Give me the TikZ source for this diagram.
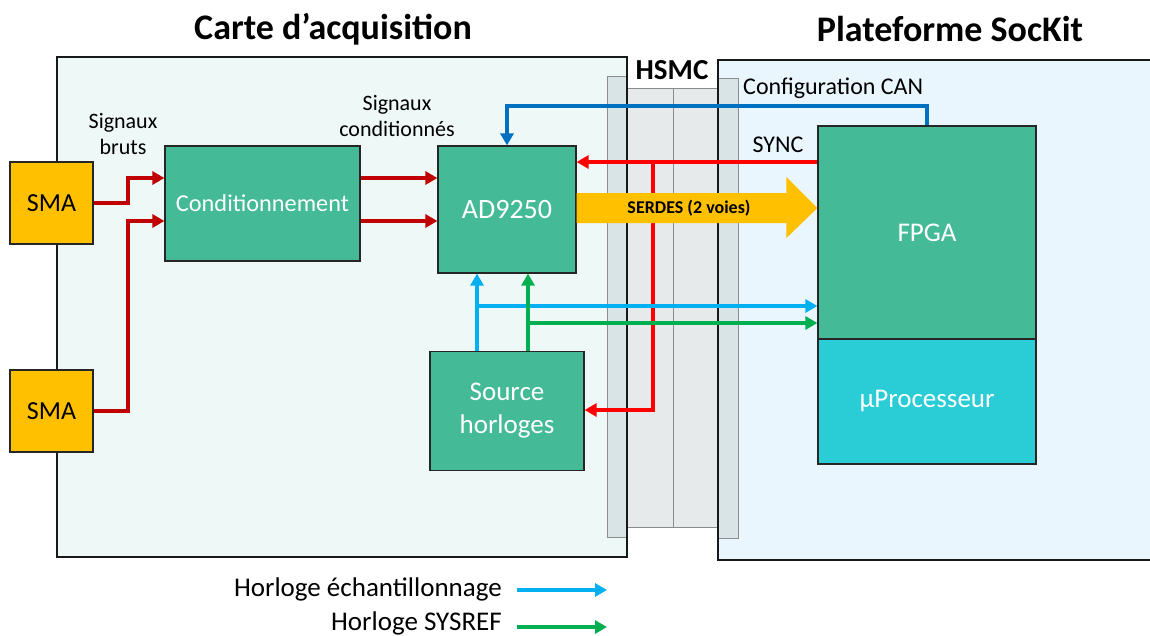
\documentclass[tikz,border=0pt]{standalone}
\usepackage{fontspec}
\setmainfont{Carlito}
\usetikzlibrary{arrows.meta,calc}
\definecolor{boardL}{RGB}{238,248,247}
\definecolor{boardR}{RGB}{234,246,253}
\definecolor{stripc}{RGB}{217,228,230}
\definecolor{midc}{RGB}{230,234,234}
\definecolor{cgreen}{RGB}{68,186,150}
\definecolor{ccyan}{RGB}{42,205,214}
\definecolor{cgold}{RGB}{255,192,0}
\definecolor{dred}{RGB}{192,0,0}
\definecolor{bred}{RGB}{255,0,0}
\definecolor{cblue}{RGB}{0,112,192}
\definecolor{lblue}{RGB}{0,176,240}
\definecolor{cgrn}{RGB}{0,176,80}
\begin{document}
\begin{tikzpicture}[x=1pt,y=-1pt,
  blk/.style={draw=black!85, line width=1.2pt, fill=cgreen, text=white, align=center, inner sep=0pt, font=\fontsize{27}{33}\selectfont},
  smabox/.style={draw=black!85, line width=1.2pt, fill=cgold, minimum width=83, minimum height=82, inner sep=0pt, font=\fontsize{26}{30}\selectfont},
  lbl/.style={align=center, inner sep=0pt, font=\fontsize{22}{26}\selectfont},
  ttl/.style={inner sep=0pt, font=\bfseries\fontsize{36}{40}\selectfont},
  tip/.style={-{Triangle[length=12pt,width=13pt]}},
  wire/.style={line width=4pt, tip},
  stripbox/.style={draw=black!45, line width=0.8pt, fill=stripc},
  midbox/.style={draw=black!45, line width=0.8pt, fill=midc},
  border/.style={draw=black!90, line width=1.8pt}
]
\useasboundingbox (0,0) rectangle (1150,635);
\fill[white] (0,0) rectangle (1150,635);

% boards
\fill[boardL] (57,57) rectangle (627,557);
\fill[boardR] (718,60) rectangle (1150,560);
\draw[stripbox] (607,76) rectangle (627,537);
\draw[stripbox] (718,78) rectangle (738,538);
\draw[midbox] (627,88) rectangle (718,527);
\draw[black!45, line width=0.8pt] (673,88) -- (673,527);
\draw[border] (57,57) rectangle (627,557);
\draw[border] (1151,60) -- (718,60) -- (718,560) -- (1151,560);

% titles
\node[ttl] (t1) at (333,29) {Carte d’acquisition};
\node[ttl] (t2) at (950,29) {Plateforme SocKit};
\node[inner sep=0pt, font=\bfseries\fontsize{29}{32}\selectfont] (hsmc) at (672,70) {HSMC};

% blocks
\node[smabox] (sma1) at (51.5,203) {SMA};
\node[smabox] (sma2) at (51.5,411) {SMA};
\node[blk, minimum width=195, minimum height=115, font=\fontsize{24.3}{28}\selectfont] (cond) at (262.5,203.5) {Conditionnement};
\node[blk, minimum width=138, minimum height=127, font=\fontsize{28}{32}\selectfont] (ad) at (507,209.5) {AD9250};
\node[blk, minimum width=154, minimum height=119, font=\fontsize{27}{33}\selectfont] (src) at (507,411) {Source\\horloges};
\node[blk, minimum width=218, minimum height=213] (fpga) at (927,232.5) {FPGA};
\node[blk, fill=ccyan, minimum width=218, minimum height=125] (up) at (927,401.5) {µProcesseur};

% labels
\node[lbl] (lb1) at (123,134) {Signaux\\bruts};
\node[lbl] (lb2) at (397,116) {Signaux\\conditionnés};
\node[lbl, anchor=west, font=\fontsize{24}{28}\selectfont] (lb3) at (743,88) {Configuration CAN};
\node[lbl, font=\fontsize{24}{28}\selectfont] (lb4) at (778,145) {SYNC};

% helper coordinates
\coordinate (xk) at (128,0);
\coordinate (yA) at (0,178);
\coordinate (yB) at (0,221);
\coordinate (ys) at (0,162);
\coordinate (xb) at (653,0);
\coordinate (ysrc) at (0,410);
\coordinate (yc) at (0,106);
\coordinate (xl) at (477,0);
\coordinate (xg) at (528,0);
\coordinate (ylb) at (0,306);
\coordinate (yg) at (0,323);
\coordinate (sy) at (0,208);

% red conditioned signals
\draw[wire, dred] (sma1.east) -- (sma1.east -| xk) |- (cond.west |- yA);
\draw[wire, dred] (sma2.east) -- (sma2.east -| xk) |- (cond.west |- yB);
\draw[wire, dred] (cond.east |- yA) -- (ad.west |- yA);
\draw[wire, dred] (cond.east |- yB) -- (ad.west |- yB);

% SYNC
\draw[wire, bred] (fpga.west |- ys) -- (ad.east |- ys);
\draw[wire, bred] (xb |- ys) |- (src.east |- ysrc);

% configuration CAN
\draw[wire, cblue, line width=3.5pt] (fpga.north) -- (fpga.north |- yc) -| (ad.north);

% clocks
\draw[wire, lblue] (src.north -| xl) -- (ad.south -| xl);
\draw[wire, lblue] (xl |- ylb) -- (fpga.west |- ylb);
\draw[wire, cgrn] (src.north -| xg) -- (ad.south -| xg);
\draw[wire, cgrn] (xg |- yg) -- (fpga.west |- yg);

% SERDES arrow
\fill[cgold] ($(ad.east |- sy)+(0,-15)$) -- ($(fpga.west |- sy)+(-31,-15)$) -- ($(fpga.west |- sy)+(-31,-31)$) -- (fpga.west |- sy) -- ($(fpga.west |- sy)+(-31,30)$) -- ($(fpga.west |- sy)+(-31,15)$) -- ($(ad.east |- sy)+(0,15)$) -- cycle;
\node[inner sep=0pt, font=\bfseries\fontsize{18}{20}\selectfont] (serdes) at (689,208) {SERDES (2 voies)};

% legend
\node[lbl, anchor=east, font=\fontsize{27}{30}\selectfont] (leg1) at (502,589) {Horloge échantillonnage};
\node[lbl, anchor=east, font=\fontsize{27}{30}\selectfont] (leg2) at (502,623) {Horloge SYSREF};
\coordinate (l1a) at (517,590);
\coordinate (l1b) at (607,590);
\coordinate (l2a) at (517,627);
\coordinate (l2b) at (607,627);
\draw[wire, lblue] (l1a) -- (l1b);
\draw[wire, cgrn] (l2a) -- (l2b);
\end{tikzpicture}
\end{document}
